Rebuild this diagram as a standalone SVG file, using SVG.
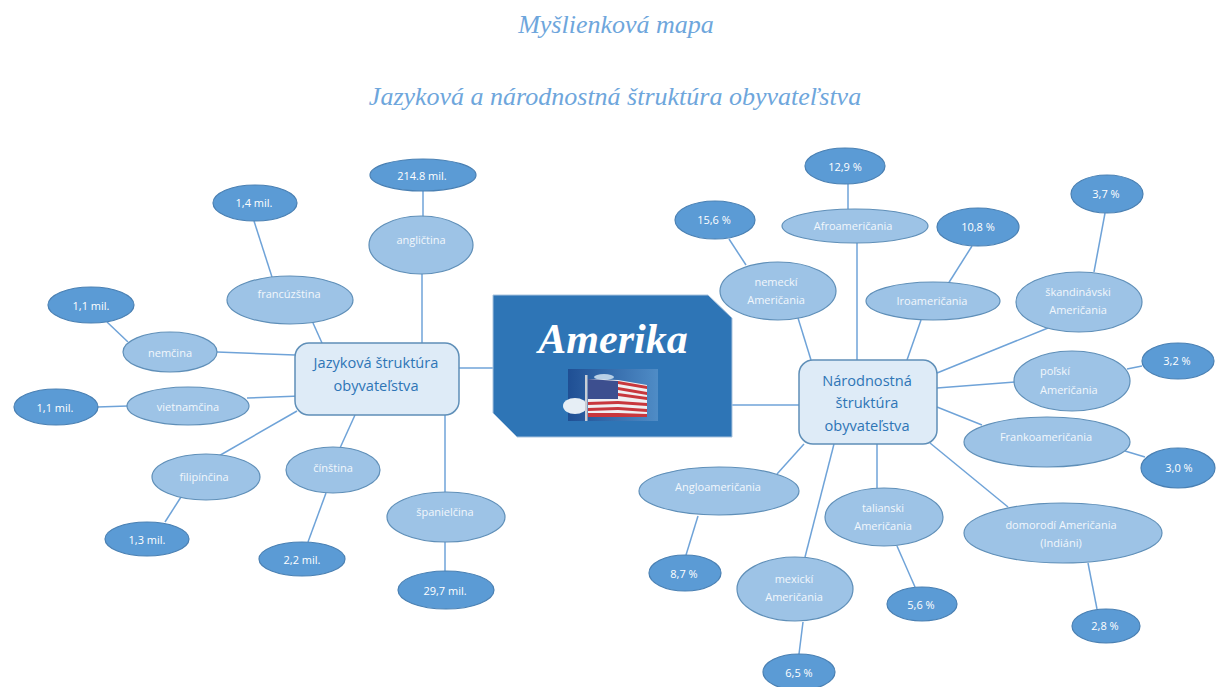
<svg xmlns="http://www.w3.org/2000/svg" width="1216" height="687" viewBox="0 0 1216 687">
<style>
.t{font-family:"Liberation Serif",serif;font-style:italic;font-size:26px;fill:#6ea6dc;text-anchor:middle}
.c line{stroke:#6fa3d8;stroke-width:1.5}
.a{fill:#9dc3e6;stroke:#5f8fb8;stroke-width:1.2}
.b{fill:#5b9bd5;stroke:#4a80b3;stroke-width:1.2}
.r{fill:#deebf7;stroke:#5f8fb8;stroke-width:1.5}
.l{font-family:"Open Sans",sans-serif;font-size:11px;fill:#f2f7fc;text-anchor:middle}
.v{font-family:"Open Sans",sans-serif;font-size:11px;fill:#fff;text-anchor:middle;font-weight:500}
.h{font-family:"Open Sans",sans-serif;font-size:14.6px;fill:#2e75b6;text-anchor:middle}
</style>
<defs>
<linearGradient id="sky" x1="0" y1="0" x2="1" y2="0"><stop offset="0" stop-color="#1f4f94"/><stop offset="1" stop-color="#4f8cc6"/></linearGradient>
</defs>
<rect width="1216" height="687" fill="#fff"/>
<text class="t" x="616" y="33">Myšlienková mapa</text>
<text class="t" x="615" y="105">Jazyková a národnostná štruktúra obyvateľstva</text>
<g id="connectors" class="c">
<line x1="423" y1="191" x2="423" y2="217"/><line x1="422" y1="274" x2="422" y2="345"/><line x1="254" y1="221" x2="272" y2="277"/><line x1="313" y1="323" x2="322" y2="343"/><line x1="107" y1="322" x2="128" y2="342"/><line x1="217" y1="352" x2="295" y2="355"/><line x1="97" y1="407" x2="128" y2="406"/><line x1="247" y1="398" x2="300" y2="396"/><line x1="217" y1="457" x2="297" y2="411"/><line x1="181" y1="497" x2="165" y2="522"/><line x1="355" y1="415" x2="340" y2="448"/><line x1="326" y1="493" x2="308" y2="542"/><line x1="445" y1="415" x2="445" y2="492"/><line x1="445" y1="542" x2="445" y2="571"/>
<line x1="459" y1="368" x2="493" y2="368"/><line x1="732" y1="405" x2="799" y2="405"/>
<line x1="848" y1="184" x2="848" y2="209"/><line x1="857" y1="243" x2="857" y2="360"/><line x1="729" y1="239" x2="746" y2="265"/><line x1="798" y1="318" x2="811" y2="360"/><line x1="972" y1="246" x2="948" y2="284"/><line x1="921" y1="320" x2="907" y2="360"/><line x1="1105" y1="213" x2="1094" y2="272"/><line x1="937" y1="373" x2="1048" y2="328"/><line x1="937" y1="388" x2="1015" y2="382"/><line x1="1127" y1="369" x2="1142" y2="366"/><line x1="937" y1="407" x2="982" y2="425"/><line x1="1125" y1="451" x2="1145" y2="457"/><line x1="930" y1="443" x2="1008" y2="507"/><line x1="1088" y1="563" x2="1097" y2="609"/><line x1="877" y1="444" x2="877" y2="488"/><line x1="897" y1="546" x2="915" y2="587"/><line x1="834" y1="444" x2="805" y2="557"/><line x1="803" y1="622" x2="799" y2="654"/><line x1="804" y1="444" x2="777" y2="474"/><line x1="698" y1="516" x2="686" y2="555"/>
</g>
<g id="amerika">
<polygon points="493,295 708,295 732,318 732,437 517,437 493,413" fill="#2e75b6" stroke="#a9c4de" stroke-width="1"/>
<text x="613" y="353" font-family="Liberation Serif,serif" font-style="italic" font-weight="700" font-size="42" fill="#fff" text-anchor="middle">Amerika</text>
<rect x="568" y="369" width="90" height="52" fill="url(#sky)"/>
<ellipse cx="575" cy="406" rx="12" ry="8" fill="#e6eef5"/>
<ellipse cx="604" cy="377" rx="10" ry="3" fill="#b9d0e6"/>
<rect x="585" y="375" width="2.5" height="46" fill="#c9ced6"/>
<polygon points="588,379 618,380 647,385 647,417 588,417" fill="#f0f0f2"/>
<g fill="#c8373d"><polygon points="618,381 647,386 647,389 618,384"/><polygon points="618,387 647,392 647,395 618,390"/><polygon points="618,393 647,397 647,400 618,396"/><polygon points="588,402 618,401 647,403 647,406 618,404 588,405"/><polygon points="588,408 618,407 647,409 647,412 618,410 588,411"/><polygon points="588,413 618,413 647,414 647,417 588,417"/></g>
<polygon points="588,379 618,381 618,399 588,399" fill="#3d4f8f"/>
</g>
<g id="jazykova"><rect class="r" x="295" y="343" width="164" height="72" rx="14"/><text class="h" x="376" y="368">Jazyková štruktúra</text><text class="h" x="376" y="391">obyvateľstva</text></g>
<g id="narodnostna"><rect class="r" x="799" y="360" width="138" height="84" rx="14"/><text class="h" x="867" y="386">Národnostná</text><text class="h" x="867" y="408">štruktúra</text><text class="h" x="867" y="431">obyvateľstva</text></g>
<g id="n1"><ellipse class="b" cx="423" cy="175" rx="53" ry="16"/><text class="v" x="422" y="180">214.8 mil.</text></g>
<g id="n2"><ellipse class="a" cx="421" cy="245" rx="52" ry="29"/><text class="l" x="421" y="244">angličtina</text></g>
<g id="n3"><ellipse class="b" cx="255" cy="203" rx="42" ry="18"/><text class="v" x="254" y="207">1,4 mil.</text></g>
<g id="n4"><ellipse class="a" cx="290" cy="300" rx="63" ry="24"/><text class="l" x="289" y="298">francúzština</text></g>
<g id="n5"><ellipse class="b" cx="91" cy="305" rx="43" ry="18"/><text class="v" x="91" y="310">1,1 mil.</text></g>
<g id="n6"><ellipse class="a" cx="170" cy="352" rx="47" ry="20"/><text class="l" x="170" y="357">nemčina</text></g>
<g id="n7"><ellipse class="b" cx="56" cy="407" rx="42" ry="18"/><text class="v" x="55" y="412">1,1 mil.</text></g>
<g id="n8"><ellipse class="a" cx="188" cy="406" rx="61" ry="19"/><text class="l" x="188" y="411">vietnamčina</text></g>
<g id="n9"><ellipse class="a" cx="206" cy="477" rx="54" ry="23"/><text class="l" x="204" y="481">filipínčina</text></g>
<g id="n10"><ellipse class="b" cx="147" cy="539" rx="42" ry="17"/><text class="v" x="147" y="544">1,3 mil.</text></g>
<g id="n11"><ellipse class="a" cx="333" cy="470" rx="47" ry="23"/><text class="l" x="333" y="472">čínština</text></g>
<g id="n12"><ellipse class="b" cx="302" cy="559" rx="43" ry="17"/><text class="v" x="302" y="564">2,2 mil.</text></g>
<g id="n13"><ellipse class="a" cx="446" cy="517" rx="59" ry="25"/><text class="l" x="445" y="516">španielčina</text></g>
<g id="n14"><ellipse class="b" cx="446" cy="590" rx="48" ry="19"/><text class="v" x="445" y="595">29,7 mil.</text></g>
<g id="n15"><ellipse class="b" cx="845" cy="166" rx="40" ry="18"/><text class="v" x="845" y="171">12,9 %</text></g>
<g id="n16"><ellipse class="a" cx="855" cy="226" rx="73" ry="17"/><text class="l" x="853" y="230">Afroameričania</text></g>
<g id="n17"><ellipse class="b" cx="715" cy="220" rx="40" ry="19"/><text class="v" x="714" y="224">15,6 %</text></g>
<g id="n18"><ellipse class="a" cx="778" cy="291" rx="58" ry="29"/><text class="l" x="776" y="286">nemeckí</text><text class="l" x="776" y="304">Američania</text></g>
<g id="n19"><ellipse class="b" cx="978" cy="227" rx="41" ry="19"/><text class="v" x="978" y="231">10,8 %</text></g>
<g id="n20"><ellipse class="a" cx="933" cy="301" rx="67" ry="19"/><text class="l" x="932" y="305">Iroameričania</text></g>
<g id="n21"><ellipse class="b" cx="1107" cy="194" rx="36" ry="19"/><text class="v" x="1106" y="198">3,7 %</text></g>
<g id="n22"><ellipse class="a" cx="1079" cy="302" rx="63" ry="30"/><text class="l" x="1078" y="296">škandinávski</text><text class="l" x="1078" y="314">Američania</text></g>
<g id="n23"><ellipse class="b" cx="1178" cy="361" rx="36" ry="18"/><text class="v" x="1177" y="365">3,2 %</text></g>
<g id="n24"><ellipse class="a" cx="1072" cy="381" rx="58" ry="30"/><text class="l" x="1040" y="375" style="text-anchor:start">poľskí</text><text class="l" x="1040" y="394" style="text-anchor:start">Američania</text></g>
<g id="n25"><ellipse class="a" cx="1047" cy="442" rx="83" ry="25"/><text class="l" x="1046" y="441">Frankoameričania</text></g>
<g id="n26"><ellipse class="b" cx="1178" cy="468" rx="37" ry="20"/><text class="v" x="1179" y="472">3,0 %</text></g>
<g id="n27"><ellipse class="a" cx="1063" cy="533" rx="99" ry="30"/><text class="l" x="1061" y="529">domorodí Američania</text><text class="l" x="1061" y="547">(Indiáni)</text></g>
<g id="n28"><ellipse class="b" cx="1106" cy="626" rx="34" ry="17"/><text class="v" x="1105" y="630">2,8 %</text></g>
<g id="n29"><ellipse class="a" cx="884" cy="517" rx="59" ry="29"/><text class="l" x="883" y="512">talianski</text><text class="l" x="883" y="530">Američania</text></g>
<g id="n30"><ellipse class="b" cx="922" cy="604" rx="35" ry="17"/><text class="v" x="921" y="609">5,6 %</text></g>
<g id="n31"><ellipse class="a" cx="795" cy="589" rx="58" ry="32"/><text class="l" x="794" y="583">mexickí</text><text class="l" x="794" y="601">Američania</text></g>
<g id="n32"><ellipse class="b" cx="799" cy="672" rx="36" ry="18"/><text class="v" x="799" y="677">6,5 %</text></g>
<g id="n33"><ellipse class="a" cx="719" cy="491" rx="80" ry="24"/><text class="l" x="718" y="491">Angloameričania</text></g>
<g id="n34"><ellipse class="b" cx="685" cy="573" rx="36" ry="18"/><text class="v" x="684" y="578">8,7 %</text></g>
</svg>
